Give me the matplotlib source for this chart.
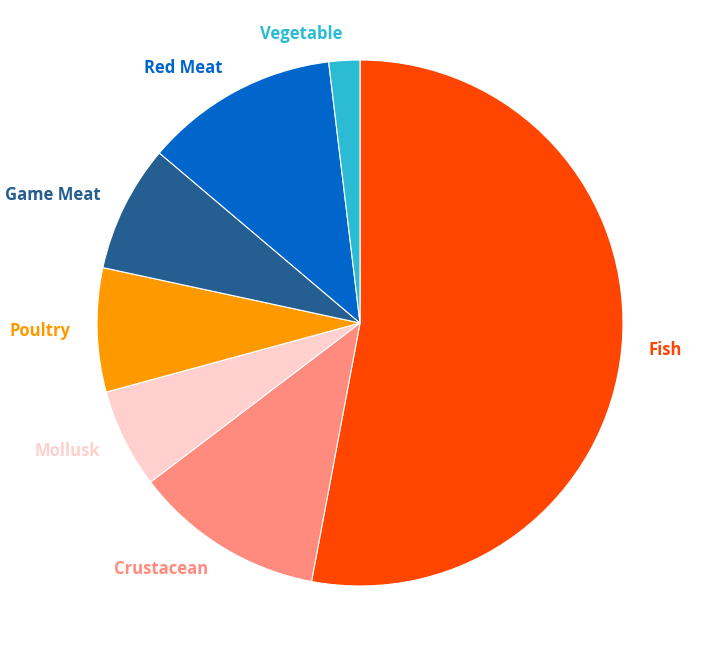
import matplotlib.pyplot as plt

labels = ["Fish", "Crustacean", "Mollusk", "Poultry", "Game Meat", "Red Meat", "Vegetable"]
values = [52.9, 11.7, 6.1, 7.6, 7.8, 11.9, 1.9]
colors = ["#FF4500", "#FF8A7E", "#FFD0CE", "#FF9900", "#255E91", "#0066CC", "#2BBCD4"]

fig = plt.figure(figsize=(7.2, 6.48), dpi=100)
ax = fig.add_axes([0.5 - 263 / 720, 1 - (323 + 263) / 648, 526 / 720, 526 / 648])

wedges, texts = ax.pie(values, colors=colors, startangle=90, counterclock=False,
                       labels=labels, labeldistance=1.1,
                       wedgeprops=dict(linewidth=0.8, edgecolor="white"),
                       textprops=dict(fontsize=12, fontweight="bold", family="Open Sans"))
for t, c in zip(texts, colors):
    t.set_color(c)
ax.set_xlim(-1, 1)
ax.set_ylim(-1, 1)
ax.set_aspect("equal")

fig.savefig("out.png", dpi=100, facecolor="white")
